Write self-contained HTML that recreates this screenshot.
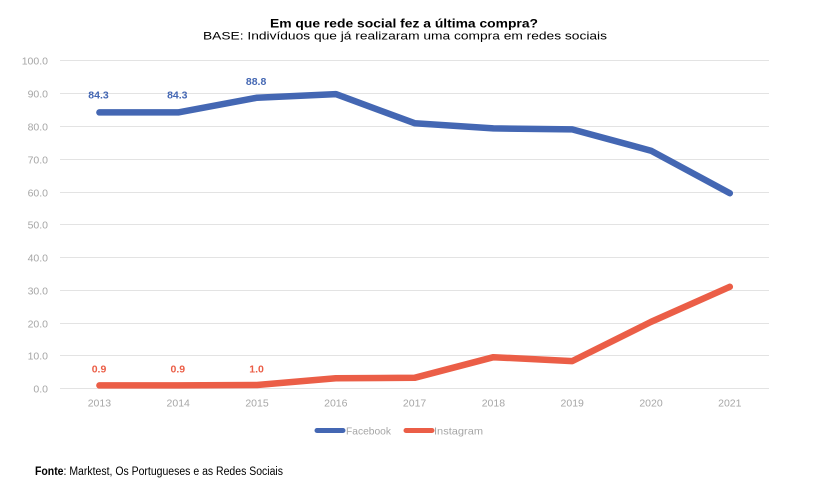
<!DOCTYPE html>
<html><head><meta charset="utf-8"><style>
html,body{margin:0;padding:0;background:#fff;width:819px;height:491px;overflow:hidden}
svg{display:block}
text{font-family:"Liberation Sans",sans-serif}
</style></head><body>
<svg width="819" height="491" viewBox="0 0 819 491" xmlns="http://www.w3.org/2000/svg">
<rect width="819" height="491" fill="#fff"/>
<text x="270" y="27.6" font-size="12" font-weight="bold" fill="#000" textLength="268" lengthAdjust="spacingAndGlyphs">Em que rede social fez a  última compra?</text>
<text x="203" y="39.4" font-size="11.2" fill="#000" textLength="404" lengthAdjust="spacingAndGlyphs">BASE:  Indivíduos que já realizaram uma compra em redes sociais</text>
<g stroke="#e3e3e3" stroke-width="1">
<line x1="60" x2="769" y1="60.5" y2="60.5"/>
<line x1="60" x2="769" y1="93.5" y2="93.5"/>
<line x1="60" x2="769" y1="126.5" y2="126.5"/>
<line x1="60" x2="769" y1="159.5" y2="159.5"/>
<line x1="60" x2="769" y1="192.5" y2="192.5"/>
<line x1="60" x2="769" y1="224.5" y2="224.5"/>
<line x1="60" x2="769" y1="257.5" y2="257.5"/>
<line x1="60" x2="769" y1="290.5" y2="290.5"/>
<line x1="60" x2="769" y1="323.5" y2="323.5"/>
<line x1="60" x2="769" y1="355.5" y2="355.5"/>
<line x1="60" x2="769" y1="388.5" y2="388.5"/>
</g>
<g font-size="10.5" fill="#a6a6a6" text-anchor="end">
<text x="48" y="64.3">100.0</text>
<text x="48" y="97.3">90.0</text>
<text x="48" y="130.3">80.0</text>
<text x="48" y="163.3">70.0</text>
<text x="48" y="196.3">60.0</text>
<text x="48" y="228.3">50.0</text>
<text x="48" y="261.3">40.0</text>
<text x="48" y="294.3">30.0</text>
<text x="48" y="327.3">20.0</text>
<text x="48" y="359.3">10.0</text>
<text x="48" y="392.3">0.0</text>
</g>
<g font-size="10.5" fill="#a6a6a6" text-anchor="middle">
<text x="99.4" y="406.5">2013</text>
<text x="178.2" y="406.5">2014</text>
<text x="257" y="406.5">2015</text>
<text x="335.8" y="406.5">2016</text>
<text x="414.6" y="406.5">2017</text>
<text x="493.4" y="406.5">2018</text>
<text x="572.2" y="406.5">2019</text>
<text x="651" y="406.5">2020</text>
<text x="729.8" y="406.5">2021</text>
</g>
<polyline fill="none" stroke="#4467b3" stroke-width="6.5" stroke-linecap="round" stroke-linejoin="round"
 points="99.4,112.4 178.2,112.4 257,97.7 335.8,94.1 414.6,123.2 493.4,128.4 572.2,129.4 651,150.7 729.8,193.2"/>
<polyline fill="none" stroke="#eb5e47" stroke-width="6.5" stroke-linecap="round" stroke-linejoin="round"
 points="99.4,385.4 178.2,385.4 257,385 335.8,378.2 414.6,377.8 493.4,357.2 572.2,361.1 651,321.9 729.8,286.8"/>
<g font-size="10.5" font-weight="bold" fill="#4467b3" text-anchor="middle">
<text x="98.5" y="98.3">84.3</text>
<text x="177.3" y="98.3">84.3</text>
<text x="256.1" y="85">88.8</text>
</g>
<g font-size="10.5" font-weight="bold" fill="#eb5e47" text-anchor="middle">
<text x="99" y="372.7">0.9</text>
<text x="177.8" y="372.7">0.9</text>
<text x="256.6" y="372.7">1.0</text>
</g>
<line x1="317" x2="343" y1="430.5" y2="430.5" stroke="#4467b3" stroke-width="5" stroke-linecap="round"/>
<text x="346" y="434.5" font-size="10.5" fill="#a6a6a6" textLength="45" lengthAdjust="spacingAndGlyphs">Facebook</text>
<line x1="406" x2="432" y1="430.5" y2="430.5" stroke="#eb5e47" stroke-width="5" stroke-linecap="round"/>
<text x="434" y="434.5" font-size="10.5" fill="#a6a6a6" textLength="49" lengthAdjust="spacingAndGlyphs">Instagram</text>
<text x="35" y="475" font-size="11.5" fill="#000" textLength="248" lengthAdjust="spacingAndGlyphs"><tspan font-weight="bold">Fonte</tspan>: Marktest, Os Portugueses e as Redes Sociais</text>
</svg>
</body></html>
